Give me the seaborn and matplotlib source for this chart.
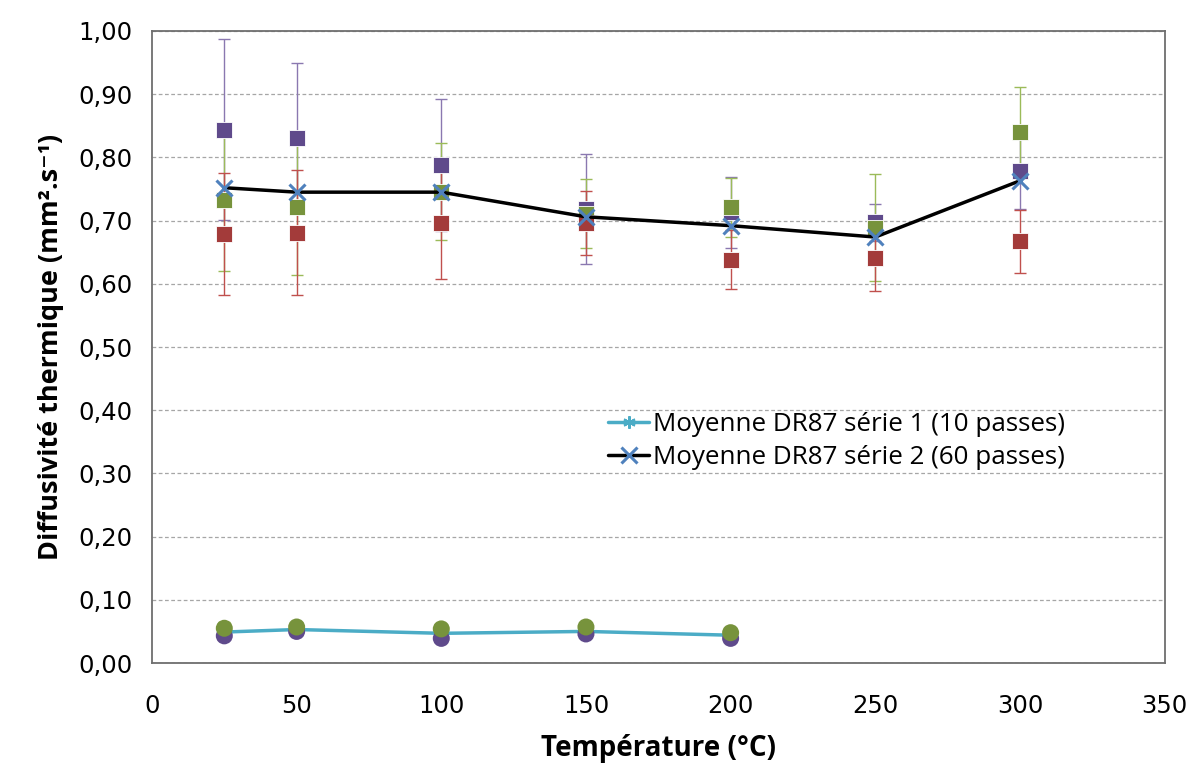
import numpy as np
import pandas as pd
import matplotlib
matplotlib.use("Agg")
import matplotlib.pyplot as plt
from matplotlib.ticker import FuncFormatter, MultipleLocator
import seaborn as sns

# ---------------------------------------------------------------------------
# Data
# ---------------------------------------------------------------------------
temp_s2 = [25, 50, 100, 150, 200, 250, 300]
mean_s2 = [0.752, 0.745, 0.745, 0.706, 0.692, 0.674, 0.763]

purple_s2 = [0.844, 0.831, 0.788, 0.718, 0.713, 0.697, 0.779]
purple_err = [0.143, 0.119, 0.105, 0.087, 0.056, 0.030, 0.060]
green_s2 = [0.733, 0.722, 0.746, 0.711, 0.721, 0.689, 0.840]
green_err = [0.112, 0.108, 0.077, 0.055, 0.047, 0.084, 0.072]
red_s2 = [0.679, 0.681, 0.696, 0.696, 0.638, 0.641, 0.667]
red_err = [0.096, 0.099, 0.089, 0.051, 0.047, 0.053, 0.050]

temp_s1 = [25, 50, 100, 150, 200]
mean_s1 = [0.049, 0.053, 0.047, 0.050, 0.044]
purple_s1 = [0.043, 0.050, 0.039, 0.046, 0.039]
green_s1 = [0.055, 0.057, 0.054, 0.057, 0.048]
green_s1_err = [0.010, 0.003, 0.003, 0.003, 0.003]

yticks = np.arange(0, 1.01, 0.1)

# colours
c_purple = "#5f4a8b"
c_green = "#77933c"
c_red = "#a33b3a"
c_cyan = "#4bacc6"
c_blue = "#4f81bd"

sns.set_theme(style="white")
plt.rcParams["font.family"] = ["Open Sans", "DejaVu Sans"]

fig = plt.figure(figsize=(11.92, 7.65), dpi=100)
ax = fig.add_axes([0.1275, 0.1333, 0.8495, 0.8262])

# error bars behind the markers
for vals, err, col in [(purple_s2, purple_err, "#8a78b0"),
                       (green_s2, green_err, "#9bbb59"),
                       (red_s2, red_err, "#c0504d")]:
    ax.errorbar(temp_s2, vals, yerr=err, fmt="none", ecolor=col,
                elinewidth=1, capsize=4.5, capthick=1, zorder=2)
ax.errorbar(temp_s1, green_s1, yerr=green_s1_err, fmt="none", ecolor="#9bbb59",
            elinewidth=1, capsize=4.5, capthick=1, zorder=2)

df2 = pd.DataFrame({"T": temp_s2, "purple": purple_s2, "green": green_s2,
                    "red": red_s2, "mean": mean_s2})
df1 = pd.DataFrame({"T": temp_s1, "purple": purple_s1, "green": green_s1,
                    "mean": mean_s1})

for col, c in [("purple", c_purple), ("green", c_green), ("red", c_red)]:
    sns.scatterplot(data=df2, x="T", y=col, marker="s", s=140, color=c,
                    edgecolor="white", linewidth=0.6, ax=ax, zorder=3, legend=False)

sns.lineplot(data=df1, x="T", y="mean", color=c_cyan, linewidth=2.5, ax=ax,
             zorder=4, label="Moyenne DR87 série 1 (10 passes)",
             marker=(6, 2, 0), markersize=9, markeredgecolor=c_cyan,
             markeredgewidth=1.5)
for col, c in [("purple", c_purple), ("green", c_green)]:
    sns.scatterplot(data=df1, x="T", y=col, marker="o", s=150, color=c,
                    edgecolor="none", ax=ax, zorder=5, legend=False)

sns.lineplot(data=df2, x="T", y="mean", color="black", linewidth=2.5, ax=ax,
             zorder=4, label="Moyenne DR87 série 2 (60 passes)",
             marker="x", markersize=11, markeredgecolor=c_blue,
             markeredgewidth=2.2)

ax.set_xlim(0, 350)
ax.set_ylim(0, 1.0)
ax.xaxis.set_major_locator(MultipleLocator(50))
ax.set_yticks(yticks)
ax.yaxis.set_major_formatter(FuncFormatter(lambda v, p: f"{v:.2f}".replace(".", ",")))

ax.grid(axis="y", color="#a6a6a6", linestyle=(0, (3, 2)), linewidth=0.9)
ax.set_axisbelow(True)
for s in ax.spines.values():
    s.set_color("#6e6e6e")
    s.set_linewidth(1.3)

ax.tick_params(axis="both", direction="out", length=8, width=1.2,
               color="#6e6e6e", labelsize=17.5, pad=6, labelcolor="black")
ax.tick_params(axis="x", pad=14)
for lab in ax.get_xticklabels() + ax.get_yticklabels():
    lab.set_family("DejaVu Sans")

ax.set_xlabel("Température (°C)", fontsize=20, fontweight="bold", labelpad=12,
              color="black")
ax.set_ylabel("Diffusivité thermique (mm².s⁻¹)", fontsize=19.5, fontweight="bold",
              labelpad=10, color="black")

leg = ax.legend(loc="upper left", bbox_to_anchor=(0.44, 0.413), frameon=False,
                fontsize=18.7, handlelength=1.6, handletextpad=0.15,
                labelspacing=0.3, borderaxespad=0, labelcolor="black")

fig.savefig("out.png", dpi=100)
